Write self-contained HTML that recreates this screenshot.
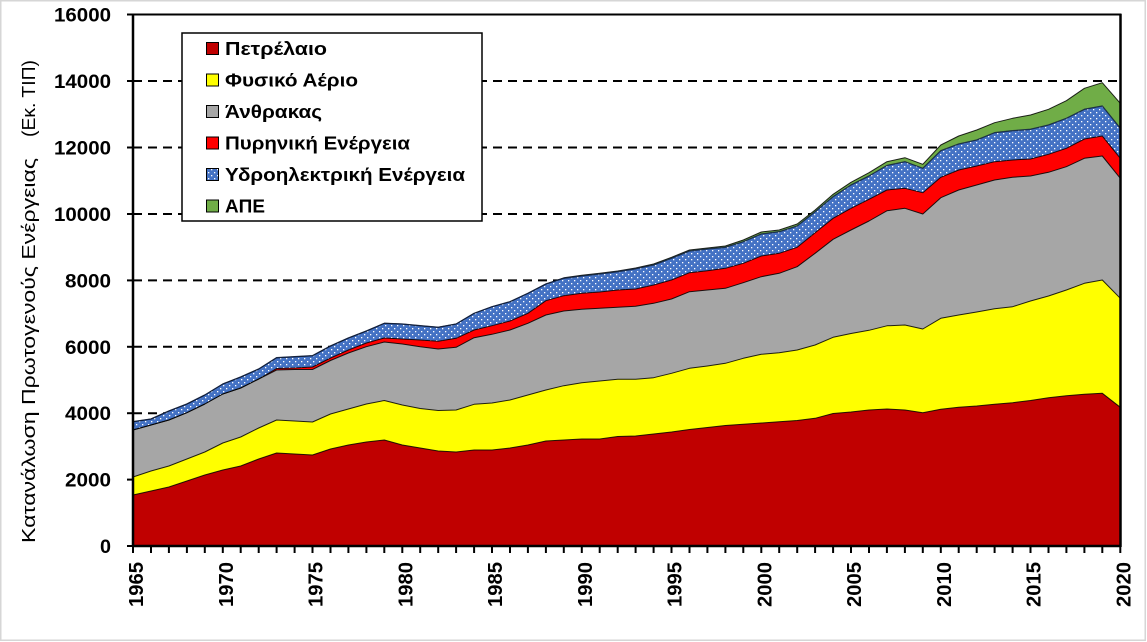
<!DOCTYPE html>
<html><head><meta charset="utf-8"><style>
html,body{margin:0;padding:0;background:#fff;}
svg{display:block;}
</style></head><body>
<svg width="1147" height="642" viewBox="0 0 1147 642" xmlns="http://www.w3.org/2000/svg">
<defs>
<pattern id="dots" width="6" height="6" patternUnits="userSpaceOnUse">
<rect width="6" height="6" fill="#4472C4"/>
<rect x="1" y="1" width="1.3" height="1.3" fill="#fff"/>
<rect x="4" y="4" width="1.3" height="1.3" fill="#fff"/>
</pattern>
</defs>
<rect x="0" y="0" width="1147" height="642" fill="#fff"/>
<rect x="0.75" y="0.75" width="1144.5" height="639.5" fill="none" stroke="#d6d6d6" stroke-width="1.5"/>

<!-- gridlines -->
<g stroke="#000" stroke-width="2" stroke-dasharray="9,6">
<line x1="133" y1="479.6" x2="1120" y2="479.6"/>
<line x1="133" y1="413.2" x2="1120" y2="413.2"/>
<line x1="133" y1="346.8" x2="1120" y2="346.8"/>
<line x1="133" y1="280.4" x2="1120" y2="280.4"/>
<line x1="133" y1="214" x2="1120" y2="214"/>
<line x1="133" y1="147.5" x2="1120" y2="147.5"/>
<line x1="133" y1="81" x2="1120" y2="81"/>
</g>

<!-- areas -->
<polygon fill="#70AD47" points="133,421.7 151,419 168.9,411 186.9,404 204.8,395 222.8,384 240.7,377 258.7,369 276.6,357.7 294.6,356.7 312.5,355.7 330.5,346 348.4,338 366.4,331 384.3,323.3 402.3,324 420.2,325.7 438.2,327.3 456.1,324 474.1,313.3 492,306.7 510,301.7 527.9,293.3 545.9,284 563.8,277.8 581.8,275.3 599.7,273.3 617.7,271 635.6,268 653.6,264 671.5,257.3 689.5,250 707.4,248 725.4,246 743.3,240 761.3,232 779.2,230 797.2,224 815.1,210 833.1,194.3 851,182.3 869,172.7 886.9,161.7 904.9,157.7 922.8,164.3 940.8,145 958.7,136 976.7,130 994.6,122.7 1012.6,118.3 1030.5,115 1048.5,109.3 1066.4,100.7 1084.4,88.3 1102.3,82.7 1120.3,103.3 1120.3,546 133,546"/>
<polygon fill="url(#dots)" points="133,421.7 151,419 168.9,411 186.9,404 204.8,395 222.8,384 240.7,377 258.7,369 276.6,357.7 294.6,356.7 312.5,355.7 330.5,346 348.4,338 366.4,331 384.3,323.3 402.3,324 420.2,325.7 438.2,327.3 456.1,324 474.1,313.3 492,306.7 510,301.7 527.9,293.3 545.9,284 563.8,278.3 581.8,276 599.7,274 617.7,271.7 635.6,268.8 653.6,265 671.5,258.3 689.5,251 707.4,249 725.4,247.3 743.3,241.7 761.3,234 779.2,231.7 797.2,226 815.1,211.7 833.1,196.7 851,185 869,176 886.9,165.5 904.9,161.7 922.8,168.3 940.8,150.7 958.7,144 976.7,140 994.6,132.7 1012.6,130.7 1030.5,129.3 1048.5,125 1066.4,118.3 1084.4,109.3 1102.3,106 1120.3,128.3 1120.3,546 133,546"/>
<polygon fill="#FF0000" points="133,430 151,425 168.9,420 186.9,412.7 204.8,404 222.8,394 240.7,388 258.7,379 276.6,368.5 294.6,368 312.5,367 330.5,358 348.4,350 366.4,343 384.3,338 402.3,339 420.2,340 438.2,341.3 456.1,338.3 474.1,330 492,325.7 510,321 527.9,313.3 545.9,300.7 563.8,295.7 581.8,293.3 599.7,292 617.7,290 635.6,289 653.6,285 671.5,280 689.5,272.7 707.4,270.7 725.4,268.3 743.3,263.3 761.3,256 779.2,253.3 797.2,247.3 815.1,232.7 833.1,218.3 851,208.3 869,199.3 886.9,190 904.9,188.3 922.8,192.7 940.8,177.3 958.7,170 976.7,166 994.6,161.7 1012.6,160 1030.5,159 1048.5,154.3 1066.4,148.3 1084.4,139 1102.3,136 1120.3,158.3 1120.3,546 133,546"/>
<polygon fill="#A6A6A6" points="133,430 151,425 168.9,420 186.9,412.7 204.8,404 222.8,394 240.7,388 258.7,379 276.6,370 294.6,369.5 312.5,369.5 330.5,360.5 348.4,353 366.4,346.7 384.3,342 402.3,344 420.2,346.7 438.2,349 456.1,347.3 474.1,337.7 492,334.3 510,330 527.9,323.3 545.9,315 563.8,311 581.8,309.3 599.7,308.3 617.7,307.3 635.6,306.3 653.6,303.3 671.5,299 689.5,291.7 707.4,290 725.4,288.3 743.3,282.7 761.3,276.7 779.2,273.3 797.2,266.7 815.1,253.3 833.1,239.3 851,230 869,221 886.9,210.8 904.9,208.3 922.8,214 940.8,197.7 958.7,190 976.7,185 994.6,180 1012.6,177.3 1030.5,176 1048.5,172.3 1066.4,166.7 1084.4,158.3 1102.3,156 1120.3,178.3 1120.3,546 133,546"/>
<polygon fill="#FFFF00" points="133,477 151,471 168.9,466 186.9,459 204.8,452 222.8,443 240.7,437 258.7,428 276.6,420 294.6,421 312.5,422 330.5,414 348.4,409 366.4,404 384.3,400.5 402.3,405 420.2,408.5 438.2,410.5 456.1,410 474.1,404.3 492,403 510,400 527.9,395 545.9,390 563.8,385.7 581.8,382.7 599.7,381 617.7,379.3 635.6,379.3 653.6,377.7 671.5,373.3 689.5,368.3 707.4,366 725.4,363.3 743.3,358.3 761.3,354.3 779.2,352.7 797.2,350 815.1,345 833.1,337.3 851,333.5 869,330.3 886.9,325.8 904.9,325 922.8,329 940.8,318.3 958.7,315 976.7,312 994.6,308.7 1012.6,306.7 1030.5,301 1048.5,296 1066.4,290 1084.4,283.3 1102.3,280 1120.3,298.3 1120.3,546 133,546"/>
<polygon fill="#C00000" points="133,495 151,491 168.9,487 186.9,481 204.8,475 222.8,470 240.7,466 258.7,459 276.6,453 294.6,454 312.5,455 330.5,449 348.4,445 366.4,442 384.3,440 402.3,445 420.2,448 438.2,451 456.1,452 474.1,450 492,450 510,448 527.9,445 545.9,441 563.8,440 581.8,439 599.7,439 617.7,436.5 635.6,436 653.6,434 671.5,432 689.5,429.5 707.4,427.5 725.4,425.5 743.3,424.3 761.3,423 779.2,421.7 797.2,420.5 815.1,418.3 833.1,413.5 851,412 869,410 886.9,409 904.9,410 922.8,412.7 940.8,409.3 958.7,407.3 976.7,406 994.6,404.3 1012.6,402.7 1030.5,400.5 1048.5,397.7 1066.4,395.7 1084.4,394.3 1102.3,393.3 1120.3,407.3 1120.3,546 133,546"/>

<!-- outlines -->
<g fill="none" stroke="#000" stroke-width="1" stroke-linejoin="round" stroke-opacity="0.85">
<polyline points="133,421.7 151,419 168.9,411 186.9,404 204.8,395 222.8,384 240.7,377 258.7,369 276.6,357.7 294.6,356.7 312.5,355.7 330.5,346 348.4,338 366.4,331 384.3,323.3 402.3,324 420.2,325.7 438.2,327.3 456.1,324 474.1,313.3 492,306.7 510,301.7 527.9,293.3 545.9,284 563.8,277.8 581.8,275.3 599.7,273.3 617.7,271 635.6,268 653.6,264 671.5,257.3 689.5,250 707.4,248 725.4,246 743.3,240 761.3,232 779.2,230 797.2,224 815.1,210 833.1,194.3 851,182.3 869,172.7 886.9,161.7 904.9,157.7 922.8,164.3 940.8,145 958.7,136 976.7,130 994.6,122.7 1012.6,118.3 1030.5,115 1048.5,109.3 1066.4,100.7 1084.4,88.3 1102.3,82.7 1120.3,103.3"/>
<polyline stroke="#102040" stroke-width="1.3" points="133,421.7 151,419 168.9,411 186.9,404 204.8,395 222.8,384 240.7,377 258.7,369 276.6,357.7 294.6,356.7 312.5,355.7 330.5,346 348.4,338 366.4,331 384.3,323.3 402.3,324 420.2,325.7 438.2,327.3 456.1,324 474.1,313.3 492,306.7 510,301.7 527.9,293.3 545.9,284 563.8,278.3 581.8,276 599.7,274 617.7,271.7 635.6,268.8 653.6,265 671.5,258.3 689.5,251 707.4,249 725.4,247.3 743.3,241.7 761.3,234 779.2,231.7 797.2,226 815.1,211.7 833.1,196.7 851,185 869,176 886.9,165.5 904.9,161.7 922.8,168.3 940.8,150.7 958.7,144 976.7,140 994.6,132.7 1012.6,130.7 1030.5,129.3 1048.5,125 1066.4,118.3 1084.4,109.3 1102.3,106 1120.3,128.3"/>
<polyline points="133,430 151,425 168.9,420 186.9,412.7 204.8,404 222.8,394 240.7,388 258.7,379 276.6,368.5 294.6,368 312.5,367 330.5,358 348.4,350 366.4,343 384.3,338 402.3,339 420.2,340 438.2,341.3 456.1,338.3 474.1,330 492,325.7 510,321 527.9,313.3 545.9,300.7 563.8,295.7 581.8,293.3 599.7,292 617.7,290 635.6,289 653.6,285 671.5,280 689.5,272.7 707.4,270.7 725.4,268.3 743.3,263.3 761.3,256 779.2,253.3 797.2,247.3 815.1,232.7 833.1,218.3 851,208.3 869,199.3 886.9,190 904.9,188.3 922.8,192.7 940.8,177.3 958.7,170 976.7,166 994.6,161.7 1012.6,160 1030.5,159 1048.5,154.3 1066.4,148.3 1084.4,139 1102.3,136 1120.3,158.3"/>
<polyline points="133,430 151,425 168.9,420 186.9,412.7 204.8,404 222.8,394 240.7,388 258.7,379 276.6,370 294.6,369.5 312.5,369.5 330.5,360.5 348.4,353 366.4,346.7 384.3,342 402.3,344 420.2,346.7 438.2,349 456.1,347.3 474.1,337.7 492,334.3 510,330 527.9,323.3 545.9,315 563.8,311 581.8,309.3 599.7,308.3 617.7,307.3 635.6,306.3 653.6,303.3 671.5,299 689.5,291.7 707.4,290 725.4,288.3 743.3,282.7 761.3,276.7 779.2,273.3 797.2,266.7 815.1,253.3 833.1,239.3 851,230 869,221 886.9,210.8 904.9,208.3 922.8,214 940.8,197.7 958.7,190 976.7,185 994.6,180 1012.6,177.3 1030.5,176 1048.5,172.3 1066.4,166.7 1084.4,158.3 1102.3,156 1120.3,178.3"/>
<polyline points="133,477 151,471 168.9,466 186.9,459 204.8,452 222.8,443 240.7,437 258.7,428 276.6,420 294.6,421 312.5,422 330.5,414 348.4,409 366.4,404 384.3,400.5 402.3,405 420.2,408.5 438.2,410.5 456.1,410 474.1,404.3 492,403 510,400 527.9,395 545.9,390 563.8,385.7 581.8,382.7 599.7,381 617.7,379.3 635.6,379.3 653.6,377.7 671.5,373.3 689.5,368.3 707.4,366 725.4,363.3 743.3,358.3 761.3,354.3 779.2,352.7 797.2,350 815.1,345 833.1,337.3 851,333.5 869,330.3 886.9,325.8 904.9,325 922.8,329 940.8,318.3 958.7,315 976.7,312 994.6,308.7 1012.6,306.7 1030.5,301 1048.5,296 1066.4,290 1084.4,283.3 1102.3,280 1120.3,298.3"/>
<polyline points="133,495 151,491 168.9,487 186.9,481 204.8,475 222.8,470 240.7,466 258.7,459 276.6,453 294.6,454 312.5,455 330.5,449 348.4,445 366.4,442 384.3,440 402.3,445 420.2,448 438.2,451 456.1,452 474.1,450 492,450 510,448 527.9,445 545.9,441 563.8,440 581.8,439 599.7,439 617.7,436.5 635.6,436 653.6,434 671.5,432 689.5,429.5 707.4,427.5 725.4,425.5 743.3,424.3 761.3,423 779.2,421.7 797.2,420.5 815.1,418.3 833.1,413.5 851,412 869,410 886.9,409 904.9,410 922.8,412.7 940.8,409.3 958.7,407.3 976.7,406 994.6,404.3 1012.6,402.7 1030.5,400.5 1048.5,397.7 1066.4,395.7 1084.4,394.3 1102.3,393.3 1120.3,407.3"/>
</g>

<!-- plot border / axes -->
<rect x="133" y="14.5" width="987.5" height="531.5" fill="none" stroke="#000" stroke-width="2"/>
<line x1="133" y1="14" x2="133" y2="547" stroke="#000" stroke-width="2.5"/>
<line x1="132" y1="546" x2="1121" y2="546" stroke="#000" stroke-width="2.5"/>
<line x1="1120.5" y1="14" x2="1120.5" y2="547" stroke="#000" stroke-width="2.5"/>

<!-- y ticks -->
<g stroke="#000" stroke-width="2">
<line x1="127" y1="546" x2="133" y2="546"/>
<line x1="127" y1="479.6" x2="133" y2="479.6"/>
<line x1="127" y1="413.2" x2="133" y2="413.2"/>
<line x1="127" y1="346.8" x2="133" y2="346.8"/>
<line x1="127" y1="280.4" x2="133" y2="280.4"/>
<line x1="127" y1="214" x2="133" y2="214"/>
<line x1="127" y1="147.5" x2="133" y2="147.5"/>
<line x1="127" y1="81" x2="133" y2="81"/>
<line x1="127" y1="14.5" x2="133" y2="14.5"/>
</g>

<!-- x ticks -->
<g stroke="#000" stroke-width="2">
<line x1="133" y1="546" x2="133" y2="553"/><line x1="151" y1="546" x2="151" y2="553"/><line x1="168.9" y1="546" x2="168.9" y2="553"/><line x1="186.9" y1="546" x2="186.9" y2="553"/><line x1="204.8" y1="546" x2="204.8" y2="553"/><line x1="222.8" y1="546" x2="222.8" y2="553"/><line x1="240.7" y1="546" x2="240.7" y2="553"/><line x1="258.7" y1="546" x2="258.7" y2="553"/><line x1="276.6" y1="546" x2="276.6" y2="553"/><line x1="294.6" y1="546" x2="294.6" y2="553"/><line x1="312.5" y1="546" x2="312.5" y2="553"/><line x1="330.5" y1="546" x2="330.5" y2="553"/><line x1="348.4" y1="546" x2="348.4" y2="553"/><line x1="366.4" y1="546" x2="366.4" y2="553"/><line x1="384.3" y1="546" x2="384.3" y2="553"/><line x1="402.3" y1="546" x2="402.3" y2="553"/><line x1="420.2" y1="546" x2="420.2" y2="553"/><line x1="438.2" y1="546" x2="438.2" y2="553"/><line x1="456.1" y1="546" x2="456.1" y2="553"/><line x1="474.1" y1="546" x2="474.1" y2="553"/><line x1="492" y1="546" x2="492" y2="553"/><line x1="510" y1="546" x2="510" y2="553"/><line x1="527.9" y1="546" x2="527.9" y2="553"/><line x1="545.9" y1="546" x2="545.9" y2="553"/><line x1="563.8" y1="546" x2="563.8" y2="553"/><line x1="581.8" y1="546" x2="581.8" y2="553"/><line x1="599.7" y1="546" x2="599.7" y2="553"/><line x1="617.7" y1="546" x2="617.7" y2="553"/><line x1="635.6" y1="546" x2="635.6" y2="553"/><line x1="653.6" y1="546" x2="653.6" y2="553"/><line x1="671.5" y1="546" x2="671.5" y2="553"/><line x1="689.5" y1="546" x2="689.5" y2="553"/><line x1="707.4" y1="546" x2="707.4" y2="553"/><line x1="725.4" y1="546" x2="725.4" y2="553"/><line x1="743.3" y1="546" x2="743.3" y2="553"/><line x1="761.3" y1="546" x2="761.3" y2="553"/><line x1="779.2" y1="546" x2="779.2" y2="553"/><line x1="797.2" y1="546" x2="797.2" y2="553"/><line x1="815.1" y1="546" x2="815.1" y2="553"/><line x1="833.1" y1="546" x2="833.1" y2="553"/><line x1="851" y1="546" x2="851" y2="553"/><line x1="869" y1="546" x2="869" y2="553"/><line x1="886.9" y1="546" x2="886.9" y2="553"/><line x1="904.9" y1="546" x2="904.9" y2="553"/><line x1="922.8" y1="546" x2="922.8" y2="553"/><line x1="940.8" y1="546" x2="940.8" y2="553"/><line x1="958.7" y1="546" x2="958.7" y2="553"/><line x1="976.7" y1="546" x2="976.7" y2="553"/><line x1="994.6" y1="546" x2="994.6" y2="553"/><line x1="1012.6" y1="546" x2="1012.6" y2="553"/><line x1="1030.5" y1="546" x2="1030.5" y2="553"/><line x1="1048.5" y1="546" x2="1048.5" y2="553"/><line x1="1066.4" y1="546" x2="1066.4" y2="553"/><line x1="1084.4" y1="546" x2="1084.4" y2="553"/><line x1="1102.3" y1="546" x2="1102.3" y2="553"/><line x1="1120.3" y1="546" x2="1120.3" y2="553"/>
</g>

<!-- y labels -->
<g font-family="'Liberation Sans', sans-serif" font-weight="bold" font-size="19" fill="#000" text-anchor="end">
<text x="111" y="553" textLength="11" lengthAdjust="spacingAndGlyphs">0</text>
<text x="111" y="486.6" textLength="46" lengthAdjust="spacingAndGlyphs">2000</text>
<text x="111" y="420.2" textLength="46" lengthAdjust="spacingAndGlyphs">4000</text>
<text x="111" y="353.8" textLength="46" lengthAdjust="spacingAndGlyphs">6000</text>
<text x="111" y="287.4" textLength="46" lengthAdjust="spacingAndGlyphs">8000</text>
<text x="111" y="221" textLength="57" lengthAdjust="spacingAndGlyphs">10000</text>
<text x="111" y="154.5" textLength="57" lengthAdjust="spacingAndGlyphs">12000</text>
<text x="111" y="88" textLength="57" lengthAdjust="spacingAndGlyphs">14000</text>
<text x="111" y="21.5" textLength="57" lengthAdjust="spacingAndGlyphs">16000</text>
</g>

<!-- x labels -->
<g font-family="'Liberation Sans', sans-serif" font-weight="bold" font-size="20" fill="#000" text-anchor="end">
<text transform="translate(143,562) rotate(-90)" textLength="45" lengthAdjust="spacingAndGlyphs">1965</text>
<text transform="translate(232.8,562) rotate(-90)" textLength="45" lengthAdjust="spacingAndGlyphs">1970</text>
<text transform="translate(322.5,562) rotate(-90)" textLength="45" lengthAdjust="spacingAndGlyphs">1975</text>
<text transform="translate(412.3,562) rotate(-90)" textLength="45" lengthAdjust="spacingAndGlyphs">1980</text>
<text transform="translate(502,562) rotate(-90)" textLength="45" lengthAdjust="spacingAndGlyphs">1985</text>
<text transform="translate(591.8,562) rotate(-90)" textLength="45" lengthAdjust="spacingAndGlyphs">1990</text>
<text transform="translate(681.5,562) rotate(-90)" textLength="45" lengthAdjust="spacingAndGlyphs">1995</text>
<text transform="translate(771.3,562) rotate(-90)" textLength="45" lengthAdjust="spacingAndGlyphs">2000</text>
<text transform="translate(861,562) rotate(-90)" textLength="45" lengthAdjust="spacingAndGlyphs">2005</text>
<text transform="translate(950.8,562) rotate(-90)" textLength="45" lengthAdjust="spacingAndGlyphs">2010</text>
<text transform="translate(1040.5,562) rotate(-90)" textLength="45" lengthAdjust="spacingAndGlyphs">2015</text>
<text transform="translate(1130.3,562) rotate(-90)" textLength="45" lengthAdjust="spacingAndGlyphs">2020</text>
</g>

<!-- y title -->
<g font-family="'Liberation Sans', 'DejaVu Sans', sans-serif" font-size="18" fill="#000">
<text transform="translate(35,543) rotate(-90)" textLength="385" lengthAdjust="spacingAndGlyphs">Κατανάλωση Πρωτογενούς Ενέργειας</text>
<text transform="translate(35,137) rotate(-90)" textLength="77" lengthAdjust="spacingAndGlyphs">(Εκ. ΤΙΠ)</text>
</g>

<!-- legend -->
<rect x="182" y="33" width="300" height="188" fill="#fff" stroke="#000" stroke-width="1.5"/>
<g stroke="#000" stroke-width="1">
<rect x="206.5" y="42.5" width="12" height="12" fill="#C00000"/>
<rect x="206.5" y="74" width="12" height="12" fill="#FFFF00"/>
<rect x="206.5" y="105.5" width="12" height="12" fill="#A6A6A6"/>
<rect x="206.5" y="137" width="12" height="12" fill="#FF0000"/>
<rect x="206.5" y="168.5" width="12" height="12" fill="url(#dots)"/>
<rect x="206.5" y="200" width="12" height="12" fill="#70AD47"/>
</g>
<g font-family="'Liberation Sans', 'DejaVu Sans', sans-serif" font-weight="bold" font-size="18" fill="#000">
<text x="225" y="55" textLength="102" lengthAdjust="spacingAndGlyphs">Πετρέλαιο</text>
<text x="225" y="86.5" textLength="133" lengthAdjust="spacingAndGlyphs">Φυσικό Αέριο</text>
<text x="225" y="118" textLength="97" lengthAdjust="spacingAndGlyphs">Άνθρακας</text>
<text x="225" y="149.5" textLength="185" lengthAdjust="spacingAndGlyphs">Πυρηνική Ενέργεια</text>
<text x="225" y="181" textLength="240" lengthAdjust="spacingAndGlyphs">Υδροηλεκτρική Ενέργεια</text>
<text x="225" y="212.5" textLength="40" lengthAdjust="spacingAndGlyphs">ΑΠΕ</text>
</g>
</svg>
</body></html>
